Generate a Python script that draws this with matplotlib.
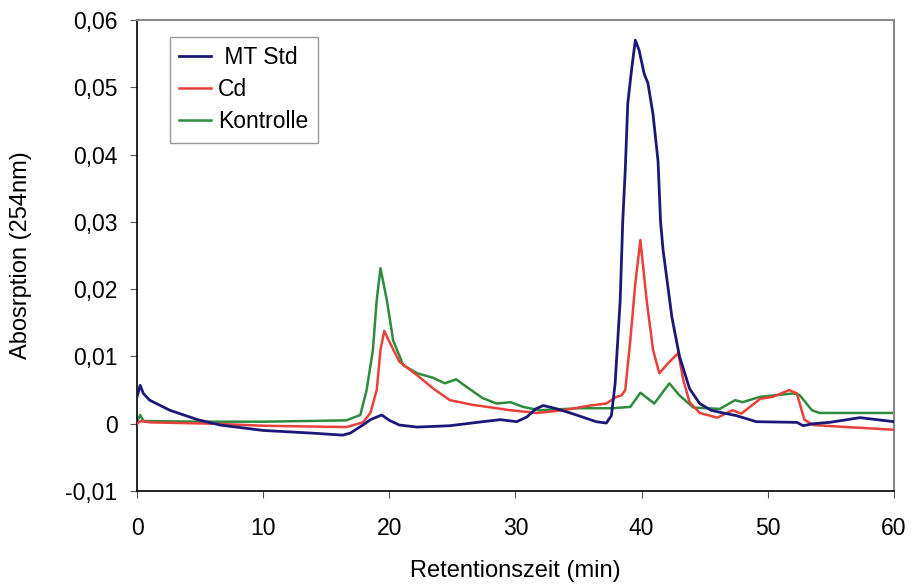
import matplotlib.pyplot as plt
import matplotlib.ticker as mtick

plt.rcParams['font.family'] = ['Liberation Sans', 'DejaVu Sans']

# MT Std (blau)
mt_x = [0.0, 0.25, 0.5, 1.0, 2.6, 4.8, 6.6, 10.0, 13.9, 16.3, 16.9, 17.9, 18.5,
        19.4, 20.0, 20.8, 22.2, 24.8, 27.4, 28.8, 30.1, 30.9, 31.6, 32.2, 33.3,
        34.5, 36.4, 37.2, 37.6, 37.9, 38.3, 38.5, 38.7, 38.9, 39.2, 39.5, 39.8,
        40.2, 40.5, 40.9, 41.3, 41.5, 41.7, 42.4, 43.0, 43.8, 44.6, 45.5, 46.2,
        47.5, 49.1, 52.3, 52.8, 53.6, 54.9, 57.3, 60.0]
mt_y = [0.0040, 0.0057, 0.0045, 0.0035, 0.0020, 0.0006, -0.0002, -0.0010, -0.0014,
        -0.0017, -0.0014, -0.0002, 0.0006, 0.0013, 0.0005, -0.0002, -0.0005,
        -0.0003, 0.0003, 0.0006, 0.0003, 0.0010, 0.0022, 0.0027, 0.0022, 0.0015,
        0.0003, 0.0001, 0.0012, 0.0060, 0.0184, 0.0300, 0.0377, 0.0476, 0.0526,
        0.0570, 0.0555, 0.0520, 0.0506, 0.0460, 0.0390, 0.0300, 0.0258, 0.0158,
        0.0100, 0.0052, 0.0030, 0.0020, 0.0017, 0.0012, 0.0003, 0.0002, -0.0003,
        0.0000, 0.0002, 0.0009, 0.0003]

# Cd (rot)
cd_x = [0.0, 0.3, 1.0, 6.0, 10.0, 16.6, 17.9, 18.5, 19.0, 19.3, 19.6, 20.0, 20.8,
        22.2, 23.5, 24.8, 26.6, 28.5, 29.6, 31.7, 33.8, 35.9, 37.2, 38.0, 38.4,
        38.7, 39.1, 39.5, 39.9, 40.4, 40.9, 41.4, 42.1, 42.9, 43.3, 43.8, 44.6,
        46.0, 47.2, 47.9, 49.4, 50.4, 51.7, 52.3, 52.9, 53.6, 56.3, 60.0]
cd_y = [0.0000, 0.0004, 0.0002, 0.0000, -0.0003, -0.0005, 0.0002, 0.0016, 0.0050,
        0.0110, 0.0138, 0.0122, 0.0092, 0.0072, 0.0052, 0.0035, 0.0028, 0.0023,
        0.0020, 0.0016, 0.0020, 0.0027, 0.0030, 0.0040, 0.0042, 0.0050, 0.0124,
        0.0209, 0.0273, 0.0183, 0.0110, 0.0075, 0.0090, 0.0105, 0.0065, 0.0032,
        0.0016, 0.0009, 0.0020, 0.0015, 0.0037, 0.0040, 0.0050, 0.0045, 0.0006,
        -0.0002, -0.0005, -0.0009]

# Kontrolle (gruen)
ko_x = [0.0, 0.25, 0.5, 5.0, 10.0, 16.6, 17.7, 18.2, 18.7, 19.0, 19.3, 19.8, 20.3,
        21.1, 22.2, 23.5, 24.4, 25.3, 26.1, 27.4, 28.5, 29.6, 30.6, 31.9, 35.1,
        37.7, 39.1, 39.9, 41.0, 42.2, 43.0, 44.1, 46.2, 47.4, 48.0, 49.4, 52.0,
        52.5, 53.5, 54.1, 60.0]
ko_y = [0.0003, 0.0013, 0.0004, 0.0003, 0.0003, 0.0005, 0.0013, 0.0050, 0.0110,
        0.0184, 0.0231, 0.0184, 0.0124, 0.0087, 0.0075, 0.0068, 0.0060, 0.0066,
        0.0055, 0.0038, 0.0030, 0.0032, 0.0025, 0.0020, 0.0023, 0.0023, 0.0025,
        0.0046, 0.0030, 0.0060, 0.0042, 0.0024, 0.0022, 0.0035, 0.0032, 0.0040,
        0.0045, 0.0043, 0.0020, 0.0016, 0.0016]

fig = plt.figure(figsize=(9.11, 5.85), dpi=100)
ax = fig.add_axes([0.1504, 0.1607, 0.8309, 0.8051])

ax.plot(mt_x, mt_y, color='#1c1878', linewidth=2.0, label=' MT Std', zorder=4)
ax.plot(cd_x, cd_y, color='#e8413b', linewidth=1.8, label='Cd', zorder=3)
ax.plot(ko_x, ko_y, color='#2e8b3e', linewidth=1.8, label='Kontrolle', zorder=2)

ax.set_xlim(0, 60)
ax.set_ylim(-0.01, 0.06)
ax.set_xticks(range(0, 61, 10))
ax.set_yticks([-0.01, 0, 0.01, 0.02, 0.03, 0.04, 0.05, 0.06])


def komma(v, pos):
    if abs(v) < 1e-9:
        return '0'
    return f'{v:.2f}'.replace('.', ',')


ax.yaxis.set_major_formatter(mtick.FuncFormatter(komma))
ax.tick_params(axis='both', labelsize=16.5, direction='out', length=5, color='#555555')
ax.tick_params(axis='x', pad=14)
ax.tick_params(axis='y', pad=9)

for s in ['top', 'right']:
    ax.spines[s].set_color('#888888')
    ax.spines[s].set_linewidth(1.5)
for s in ['left', 'bottom']:
    ax.spines[s].set_color('black')
    ax.spines[s].set_linewidth(1.2)

ax.set_xlabel('Retentionszeit (min)', fontsize=17, labelpad=14)
ax.set_ylabel('Abosrption (254nm)', fontsize=17, labelpad=24)

leg = ax.legend(loc='upper left', bbox_to_anchor=(0.0436, 0.964), borderaxespad=0,
                fontsize=16.5, handlelength=1.4, handletextpad=0.3, labelspacing=0.4,
                borderpad=0.4, fancybox=False, framealpha=1, edgecolor='#999999')
leg.get_frame().set_linewidth(1.0)

fig.savefig('out.png', dpi=100)
